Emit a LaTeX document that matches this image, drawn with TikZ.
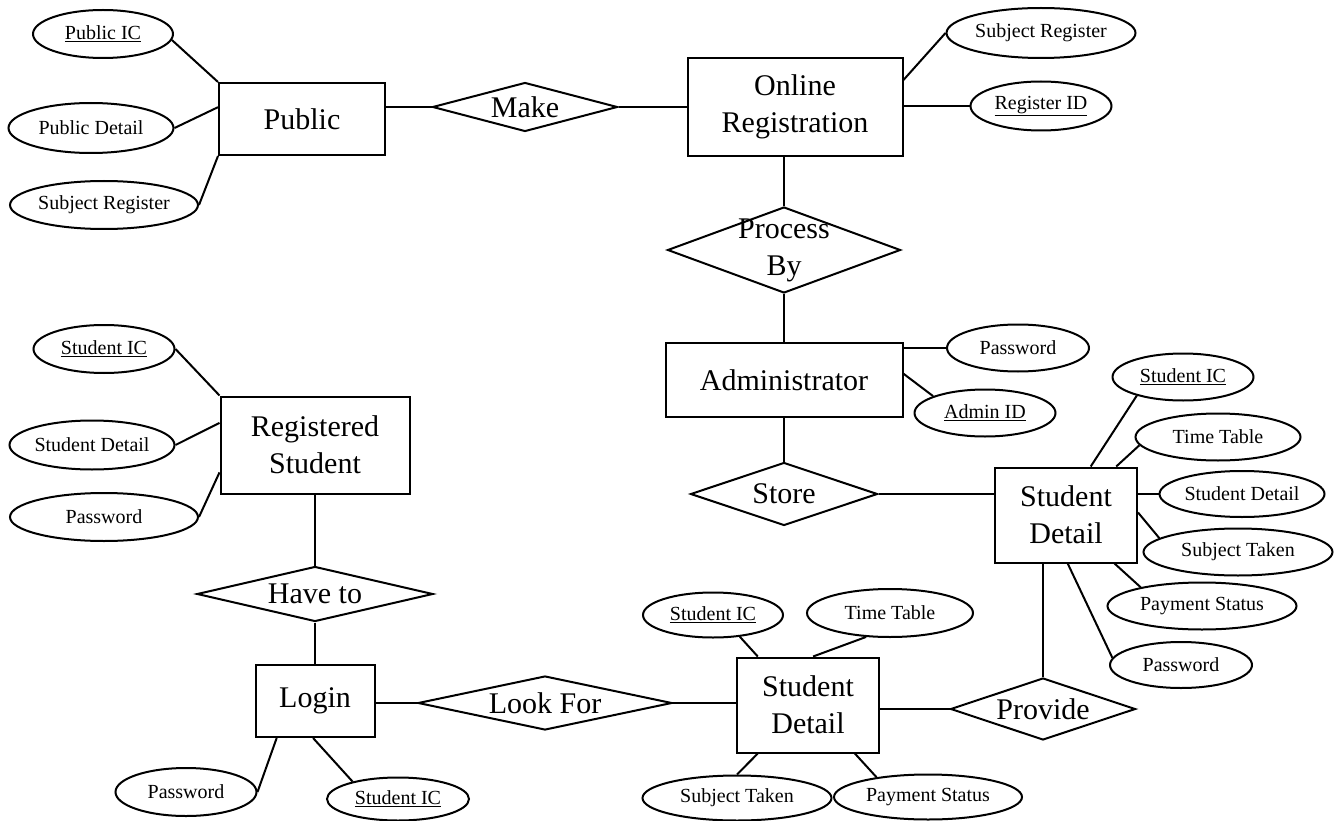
\documentclass[tikz,border=0pt]{standalone}
\usepackage{fontspec}
\setmainfont{Liberation Serif}
\usetikzlibrary{shapes.geometric}

\newcommand{\entityfont}{\fontsize{30}{37}\selectfont}
\newcommand{\attrfont}{\fontsize{20}{24}\selectfont}

\begin{document}
\begin{tikzpicture}[
    x=1pt, y=-1pt,
    line width=2pt,
    entity/.style={rectangle, draw, inner sep=0pt, font=\entityfont, align=center},
    attrib/.style={ellipse, draw, inner sep=0pt, font=\attrfont},
    relation/.style={diamond, draw, inner sep=0pt},
    reltext/.style={font=\entityfont, align=center, inner sep=0pt}
]
\useasboundingbox (0,0) rectangle (1341,821);

% ============ PUBLIC ============
\node[entity, minimum width=166, minimum height=72] (public) at (302,119) {Public};
\node[attrib, minimum width=140, minimum height=48] (pubic) at (103,34) {\underline{Public IC}};
\node[attrib, minimum width=165, minimum height=50] (pubdet) at (91,128) {Public Detail};
\node[attrib, minimum width=188, minimum height=48] (pubsub) at (104,205) {Subject Register};

\draw (pubic.-5) -- (public.north west);
\draw (pubdet.east) -- (public.172);
\draw (pubsub.east) -- (public.south west);

% Make
\node[relation, minimum width=185, minimum height=49, label={[reltext]center:Make}] (make) at (525,107) {};
\draw (make.west -| public.east) -- (make.west);

% ============ ONLINE REGISTRATION ============
\node[entity, minimum width=215, minimum height=98] (onlreg) at (795,107) {Online\\Registration};
\node[attrib, minimum width=189, minimum height=50] (regsub) at (1041,33) {Subject Register};
\node[attrib, minimum width=141, minimum height=49] (regid) at (1041,106) {\underline{Register ID}};

\draw (make.east) -- (make.east -| onlreg.west);
\draw (onlreg.14) -- (regsub.west);
\draw (onlreg.east |- regid) -- (regid.west);

% Process By
\node[relation, minimum width=233, minimum height=86, label={[reltext]center:{Process\\By}}] (procby) at (784,250) {};
\draw (onlreg.south -| procby) -- (procby.north);

% ============ ADMINISTRATOR ============
\node[entity, minimum width=237, minimum height=74] (admin) at (784,380) {Administrator};
\node[attrib, minimum width=142, minimum height=47] (admpw) at (1018,348) {Password};
\node[attrib, minimum width=141, minimum height=47] (admid) at (985,413) {\underline{Admin ID}};

\draw (procby.south) -- (admin.north);
\draw (admin.east |- admpw) -- (admpw.west);
\draw (admin.3) -- (admid.162);

% Store
\node[relation, minimum width=187, minimum height=63, label={[reltext]center:Store}] (store) at (784,494) {};
\draw (admin.south) -- (store.north);

% ============ STUDENT DETAIL (RIGHT) ============
\node[entity, minimum width=142, minimum height=95] (sdright) at (1066,515) {Student\\Detail};
\node[attrib, minimum width=141, minimum height=47] (sdric) at (1183,377) {\underline{Student IC}};
\node[attrib, minimum width=165, minimum height=47] (sdrtime) at (1218,437) {Time Table};
\node[attrib, minimum width=165, minimum height=46] (sdrdet) at (1242,494) {Student Detail};
\node[attrib, minimum width=189, minimum height=47] (sdrsub) at (1238,552) {Subject Taken};
\node[attrib, minimum width=189, minimum height=47] (sdrpay) at (1202,606) {Payment Status};
\node[attrib, minimum width=142, minimum height=46] (sdrpw) at (1181,665) {Password};

\draw (store.east) -- (store.east -| sdright.west);
\draw (sdright.63) -- (sdric.202);
\draw (sdright.44) -- (sdrtime.186);
\draw (sdright.east |- sdrdet) -- (sdrdet.west);
\draw (sdright.2) -- (sdrsub.170);
\draw (sdright.-45) -- (sdrpay.163);
\draw (sdright.-88) -- (sdrpw.174);

% Provide
\node[relation, minimum width=185, minimum height=62, label={[reltext]center:Provide}] (provide) at (1043,709) {};
\draw (sdright.south -| provide) -- (provide.north);

% ============ REGISTERED STUDENT ============
\node[entity, minimum width=189, minimum height=97] (regstud) at (315,445) {Registered\\Student};
\node[attrib, minimum width=141, minimum height=48] (rsic) at (104,349) {\underline{Student IC}};
\node[attrib, minimum width=165, minimum height=49] (rsdet) at (92,445) {Student Detail};
\node[attrib, minimum width=188, minimum height=48] (rspw) at (104,517) {Password};

\draw (rsic.east) -- (regstud.north west);
\draw (rsdet.east) -- (regstud.167);
\draw (rspw.east) -- (regstud.196);

% Have to
\node[relation, minimum width=236, minimum height=55, label={[reltext]center:Have to}] (haveto) at (315,594) {};
\draw (regstud.south) -- (haveto.north);

% ============ LOGIN ============
\node[entity, minimum width=119, minimum height=72] (login) at (315,701) {Login};
\node[attrib, minimum width=141, minimum height=48] (lgpw) at (186,792) {Password};
\node[attrib, minimum width=142, minimum height=43] (lgic) at (398,799) {\underline{Student IC}};

\draw (haveto.south) -- (login.north);
\draw (login.224) -- (lgpw.east);
\draw (login.267) -- (lgic.159);

% Look For
\node[relation, minimum width=254, minimum height=54, label={[reltext]center:Look For}] (lookfor) at (545,703) {};
\draw (lookfor.west -| login.east) -- (lookfor.west);

% ============ STUDENT DETAIL (BOTTOM) ============
\node[entity, minimum width=142, minimum height=95] (sdbot) at (808,705) {Student\\Detail};
\node[attrib, minimum width=140, minimum height=45] (sdbic) at (713,615) {\underline{Student IC}};
\node[attrib, minimum width=166, minimum height=48] (sdbtime) at (890,613) {Time Table};
\node[attrib, minimum width=189, minimum height=45] (sdbsub) at (737,798) {Subject Taken};
\node[attrib, minimum width=188, minimum height=45] (sdbpay) at (928,797) {Payment Status};

\draw (lookfor.east) -- (lookfor.east -| sdbot.west);
\draw (sdbot.east |- provide) -- (provide.west);
\draw (sdbot.136) -- (sdbic.-39);
\draw (sdbot.84) -- (sdbtime.225);
\draw (sdbot.224) -- (sdbsub.north);
\draw (sdbot.-46) -- (sdbpay.159);

\end{tikzpicture}
\end{document}
